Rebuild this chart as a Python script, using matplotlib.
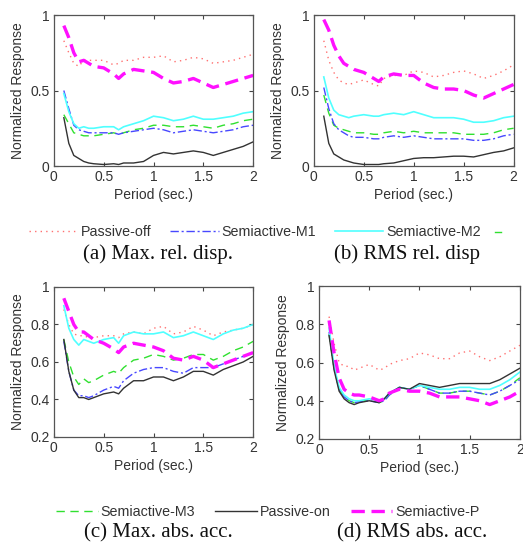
import matplotlib
matplotlib.use("Agg")
import matplotlib.pyplot as plt
from matplotlib.lines import Line2D

# period axis (sec.)
period = [0.1, 0.15, 0.2, 0.25, 0.3, 0.35, 0.4, 0.5, 0.6, 0.65, 0.7, 0.8,
          0.9, 1.0, 1.1, 1.2, 1.3, 1.4, 1.5, 1.6, 1.7, 1.8, 1.9, 2.0]

series_names = ["Passive-off", "Semiactive-M1", "Semiactive-M2",
                "Semiactive-M3", "Passive-on", "Semiactive-P"]

# (a) Max. rel. disp.
off_a = [0.83, 0.75, 0.68, 0.66, 0.70, 0.70, 0.70, 0.70, 0.67, 0.68, 0.70, 0.70, 0.72, 0.72, 0.73, 0.69, 0.70, 0.72, 0.71, 0.68, 0.69, 0.70, 0.72, 0.74]
m1_a = [0.50, 0.38, 0.27, 0.24, 0.23, 0.22, 0.22, 0.22, 0.22, 0.21, 0.22, 0.23, 0.24, 0.25, 0.24, 0.22, 0.23, 0.24, 0.23, 0.22, 0.23, 0.24, 0.26, 0.27]
m2_a = [0.48, 0.36, 0.28, 0.25, 0.26, 0.25, 0.25, 0.26, 0.26, 0.24, 0.26, 0.28, 0.30, 0.33, 0.32, 0.30, 0.31, 0.33, 0.31, 0.31, 0.32, 0.33, 0.35, 0.36]
m3_a = [0.34, 0.28, 0.22, 0.21, 0.20, 0.20, 0.20, 0.21, 0.22, 0.21, 0.22, 0.24, 0.25, 0.27, 0.27, 0.26, 0.26, 0.27, 0.26, 0.25, 0.27, 0.28, 0.30, 0.31]
on_a = [0.32, 0.15, 0.07, 0.05, 0.03, 0.02, 0.015, 0.01, 0.015, 0.01, 0.02, 0.02, 0.03, 0.07, 0.09, 0.08, 0.09, 0.10, 0.09, 0.07, 0.09, 0.11, 0.13, 0.16]
p_a = [0.93, 0.85, 0.75, 0.69, 0.70, 0.68, 0.66, 0.65, 0.61, 0.58, 0.61, 0.64, 0.63, 0.62, 0.58, 0.55, 0.56, 0.58, 0.55, 0.52, 0.54, 0.56, 0.58, 0.60]

# (b) RMS rel. disp
off_b = [0.83, 0.70, 0.62, 0.57, 0.55, 0.54, 0.55, 0.57, 0.54, 0.53, 0.58, 0.60, 0.60, 0.63, 0.62, 0.59, 0.60, 0.62, 0.63, 0.61, 0.58, 0.60, 0.63, 0.67]
m1_b = [0.52, 0.38, 0.28, 0.24, 0.22, 0.20, 0.19, 0.19, 0.18, 0.18, 0.19, 0.20, 0.19, 0.20, 0.19, 0.18, 0.18, 0.18, 0.18, 0.17, 0.17, 0.18, 0.20, 0.21]
m2_b = [0.59, 0.45, 0.37, 0.34, 0.33, 0.32, 0.33, 0.34, 0.33, 0.33, 0.34, 0.35, 0.34, 0.36, 0.34, 0.32, 0.32, 0.32, 0.31, 0.29, 0.29, 0.30, 0.32, 0.33]
m3_b = [0.47, 0.35, 0.27, 0.25, 0.24, 0.23, 0.22, 0.22, 0.21, 0.21, 0.22, 0.23, 0.22, 0.23, 0.22, 0.22, 0.22, 0.22, 0.21, 0.21, 0.21, 0.22, 0.24, 0.25]
on_b = [0.33, 0.15, 0.08, 0.06, 0.04, 0.03, 0.02, 0.01, 0.01, 0.01, 0.015, 0.02, 0.035, 0.05, 0.055, 0.055, 0.06, 0.065, 0.065, 0.06, 0.075, 0.09, 0.10, 0.12]
p_b = [0.97, 0.90, 0.80, 0.73, 0.68, 0.66, 0.64, 0.62, 0.58, 0.56, 0.59, 0.61, 0.60, 0.60, 0.55, 0.52, 0.51, 0.51, 0.50, 0.47, 0.45, 0.48, 0.51, 0.54]

# (c) Max. abs. acc.
off_c = [0.88, 0.80, 0.75, 0.74, 0.74, 0.73, 0.73, 0.74, 0.74, 0.73, 0.75, 0.76, 0.75, 0.78, 0.79, 0.75, 0.76, 0.79, 0.77, 0.74, 0.76, 0.77, 0.78, 0.80]
m1_c = [0.71, 0.55, 0.45, 0.42, 0.42, 0.41, 0.42, 0.45, 0.47, 0.46, 0.50, 0.54, 0.56, 0.57, 0.57, 0.55, 0.54, 0.57, 0.57, 0.57, 0.59, 0.61, 0.63, 0.65]
m2_c = [0.90, 0.78, 0.72, 0.69, 0.72, 0.71, 0.70, 0.72, 0.73, 0.70, 0.74, 0.76, 0.75, 0.75, 0.76, 0.73, 0.74, 0.76, 0.74, 0.72, 0.75, 0.77, 0.78, 0.80]
m3_c = [0.72, 0.60, 0.52, 0.48, 0.51, 0.49, 0.50, 0.53, 0.55, 0.54, 0.57, 0.61, 0.62, 0.64, 0.63, 0.61, 0.62, 0.64, 0.64, 0.61, 0.63, 0.66, 0.68, 0.71]
on_c = [0.72, 0.55, 0.45, 0.41, 0.41, 0.40, 0.41, 0.43, 0.44, 0.43, 0.46, 0.50, 0.50, 0.52, 0.52, 0.50, 0.52, 0.55, 0.55, 0.53, 0.56, 0.58, 0.60, 0.63]
p_c = [0.94, 0.87, 0.80, 0.76, 0.76, 0.74, 0.72, 0.70, 0.67, 0.65, 0.68, 0.70, 0.69, 0.68, 0.66, 0.62, 0.61, 0.63, 0.61, 0.57, 0.59, 0.61, 0.63, 0.65]

# (d) RMS abs. acc.
off_d = [0.84, 0.70, 0.60, 0.58, 0.58, 0.56, 0.57, 0.59, 0.56, 0.57, 0.59, 0.61, 0.62, 0.65, 0.64, 0.62, 0.62, 0.65, 0.66, 0.63, 0.61, 0.63, 0.66, 0.69]
m1_d = [0.76, 0.57, 0.46, 0.42, 0.40, 0.39, 0.395, 0.40, 0.39, 0.40, 0.43, 0.47, 0.46, 0.48, 0.46, 0.44, 0.44, 0.45, 0.45, 0.44, 0.43, 0.45, 0.48, 0.51]
m2_d = [0.78, 0.58, 0.47, 0.43, 0.41, 0.40, 0.40, 0.41, 0.40, 0.41, 0.44, 0.47, 0.46, 0.48, 0.47, 0.46, 0.46, 0.47, 0.47, 0.46, 0.46, 0.48, 0.51, 0.55]
m3_d = [0.75, 0.57, 0.46, 0.42, 0.40, 0.39, 0.395, 0.405, 0.39, 0.40, 0.43, 0.47, 0.46, 0.48, 0.46, 0.44, 0.44, 0.45, 0.45, 0.44, 0.43, 0.45, 0.48, 0.52]
on_d = [0.74, 0.56, 0.45, 0.41, 0.39, 0.38, 0.39, 0.40, 0.39, 0.41, 0.44, 0.47, 0.46, 0.49, 0.48, 0.47, 0.48, 0.49, 0.49, 0.49, 0.49, 0.51, 0.54, 0.57]
p_d = [0.82, 0.65, 0.52, 0.46, 0.44, 0.43, 0.43, 0.42, 0.40, 0.41, 0.44, 0.46, 0.45, 0.45, 0.44, 0.42, 0.42, 0.42, 0.41, 0.40, 0.38, 0.40, 0.42, 0.45]

# line style for each series (same order as series_names)
styles = [
    dict(color="#ff7070", lw=1.0, ls=(0, (1, 3))),
    dict(color="#4848ff", lw=1.0, ls=(0, (6, 2, 1.5, 2))),
    dict(color="#50ffff", lw=1.2, ls="-"),
    dict(color="#30e030", lw=1.0, ls=(0, (6, 4))),
    dict(color="#333333", lw=1.0, ls="-"),
    dict(color="#ff10ff", lw=2.4, ls=(0, (4, 2))),
]

# plotting order: draw light lines first so the thick magenta sits on top
draw_order = [0, 3, 1, 2, 4, 5]

panels = [
    ([off_a, m1_a, m2_a, m3_a, on_a, p_a], [0.103, 0.6954, 0.381, 0.277], (0, 1), [0, 0.5, 1], ["0", "0.5", "1"]),
    ([off_b, m1_b, m2_b, m3_b, on_b, p_b], [0.600, 0.6954, 0.382, 0.277], (0, 1), [0, 0.5, 1], ["0", "0.5", "1"]),
    ([off_c, m1_c, m2_c, m3_c, on_c, p_c], [0.103, 0.1982, 0.381, 0.2752], (0.2, 1), [0.2, 0.4, 0.6, 0.8, 1], ["0.2", "0.4", "0.6", "0.8", "1"]),
    ([off_d, m1_d, m2_d, m3_d, on_d, p_d], [0.610, 0.1945, 0.384, 0.2807], (0.2, 1), [0.2, 0.4, 0.6, 0.8, 1], ["0.2", "0.4", "0.6", "0.8", "1"]),
]

plt.rcParams["font.family"] = ["Liberation Sans", "DejaVu Sans"]
txt = "#333333"

fig = plt.figure(figsize=(5.23, 5.45), dpi=100)

for data, rect, ylim, yt, ytl in panels:
    ax = fig.add_axes(rect)
    for i in draw_order:
        ax.plot(period, data[i], **styles[i])
    ax.set_xlim(0, 2)
    ax.set_ylim(*ylim)
    ax.set_xticks([0, 0.5, 1, 1.5, 2])
    ax.set_xticklabels(["0", "0.5", "1", "1.5", "2"])
    ax.set_yticks(yt)
    ax.set_yticklabels(ytl)
    ax.tick_params(direction="in", top=True, right=True, length=3, width=0.8,
                   labelsize=10, labelcolor=txt, color="#444444", pad=3)
    for s in ax.spines.values():
        s.set_color("#555555")
        s.set_linewidth(0.9)
    ax.set_xlabel("Period (sec.)", fontsize=10, color=txt, labelpad=3)
    ax.set_ylabel("Normalized Response", fontsize=10, color=txt, labelpad=4)

# legend handles
handles = [Line2D([], [], **styles[i]) for i in range(6)]

# top legend: first three entries, the fourth is cut at the page edge in the original
fig.legend(handles[:3], series_names[:3], loc="center left",
           bbox_to_anchor=(0.056, 1 - 232 / 545), ncol=3, frameon=False,
           fontsize=10.3, handlelength=3.4, handletextpad=0.2, columnspacing=1.3,
           labelcolor=txt, borderaxespad=0, borderpad=0)
# the little green stub left of the cut
fig.add_artist(Line2D([495 / 523, 501 / 523], [1 - 232 / 545, 1 - 232 / 545],
                      transform=fig.transFigure, color="#30e030", lw=1.0))

fig.legend(handles[3:], series_names[3:], loc="center",
           bbox_to_anchor=(0.512, 1 - 512 / 545), ncol=3, frameon=False,
           fontsize=10.3, handlelength=2.9, handletextpad=0.2, columnspacing=1.4,
           labelcolor=txt, borderaxespad=0, borderpad=0)

# sub captions
cap = dict(fontsize=15, family=["Liberation Serif", "DejaVu Serif"], ha="center", va="center", color="#111111")
fig.text(158 / 523, 1 - 254 / 545, "(a) Max. rel. disp.", **cap)
fig.text(407 / 523, 1 - 254 / 545, "(b) RMS rel. disp", **cap)
fig.text(158 / 523, 1 - 533 / 545, "(c) Max. abs. acc.", **cap)
fig.text(412 / 523, 1 - 533 / 545, "(d) RMS abs. acc.", **cap)

fig.savefig("out.png", dpi=100)
